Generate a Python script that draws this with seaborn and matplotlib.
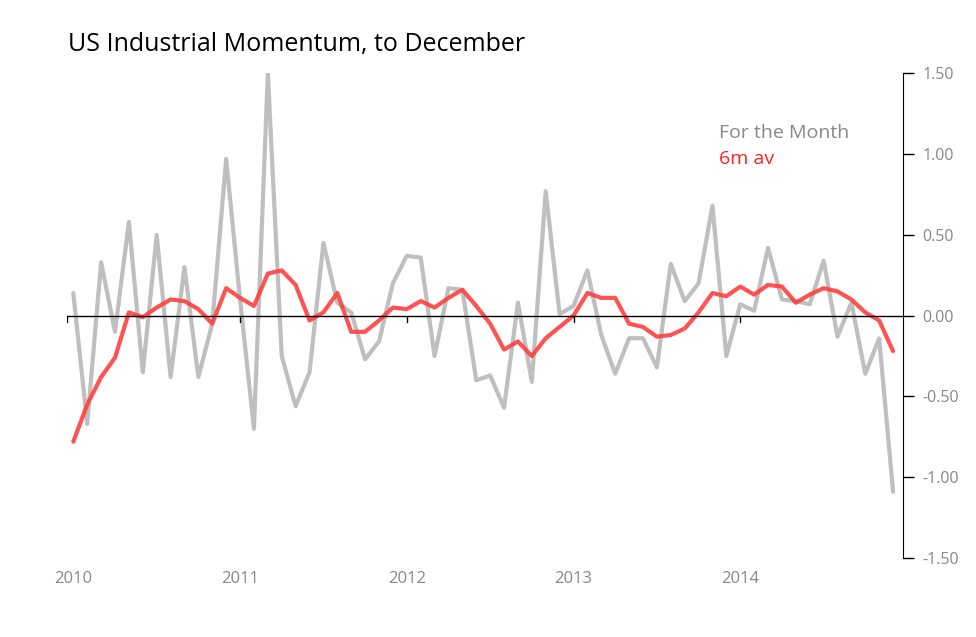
import numpy as np
import pandas as pd
import matplotlib
matplotlib.use("Agg")
import matplotlib.pyplot as plt
import seaborn as sns

# =========================
# data (monthly, Jan 2010 - Dec 2014)
# =========================
monthly = [0.14, -0.67, 0.33, -0.10, 0.58, -0.35, 0.50, -0.38, 0.30, -0.38, -0.05, 0.97,
           0.10, -0.70, 1.50, -0.25, -0.56, -0.35, 0.45, 0.08, 0.02, -0.27, -0.16, 0.20,
           0.37, 0.36, -0.25, 0.17, 0.16, -0.40, -0.37, -0.57, 0.08, -0.41, 0.77, 0.01,
           0.06, 0.28, -0.12, -0.36, -0.14, -0.14, -0.32, 0.32, 0.09, 0.20, 0.68, -0.25,
           0.07, 0.03, 0.42, 0.10, 0.09, 0.07, 0.34, -0.13, 0.08, -0.36, -0.14, -1.09]
avg6 = [-0.78, -0.55, -0.38, -0.26, 0.02, -0.01, 0.05, 0.10, 0.09, 0.04, -0.05, 0.17,
        0.11, 0.06, 0.26, 0.28, 0.19, -0.03, 0.02, 0.14, -0.10, -0.10, -0.03, 0.05,
        0.04, 0.09, 0.05, 0.11, 0.16, 0.06, -0.05, -0.21, -0.16, -0.25, -0.14, -0.07,
        0.00, 0.14, 0.11, 0.11, -0.05, -0.07, -0.13, -0.12, -0.08, 0.02, 0.14, 0.12,
        0.18, 0.13, 0.19, 0.18, 0.08, 0.13, 0.17, 0.15, 0.10, 0.02, -0.03, -0.22]
years = ["2010", "2011", "2012", "2013", "2014"]
yticks = [1.5, 1.0, 0.5, 0.0, -0.5, -1.0, -1.5]

df = pd.DataFrame({"t": np.arange(len(monthly)), "month": monthly, "avg": avg6})

sns.set_style("white")
plt.rcParams["font.family"] = ["Open Sans", "DejaVu Sans"]

fig = plt.figure(figsize=(9.76, 6.37), dpi=100)
ax = fig.add_axes([0.069, 0.124, 0.856, 0.761])

sns.lineplot(data=df, x="t", y="month", color="#bfbfbf", linewidth=3, ax=ax)
sns.lineplot(data=df, x="t", y="avg", color="#ff4040", alpha=0.9, linewidth=3, ax=ax)

ax.set_xlim(-0.43, 59.7)
ax.set_ylim(-1.5, 1.5)
ax.axhline(0, color="black", linewidth=1)

# year ticks sitting on the zero line
year_pos = np.arange(len(years)) * 12.0
year_pos[0] = -0.43
for xp in year_pos:
    ax.plot([xp, xp], [0, -0.04], color="black", linewidth=1)

ax.set_xticks(np.arange(len(years)) * 12)
ax.set_xticklabels(years, color="#888888", fontsize=12)
ax.tick_params(axis="x", length=0, pad=9)

ax.yaxis.tick_right()
ax.set_yticks(yticks)
ax.set_yticklabels([f"{v:.2f}" for v in yticks], color="#888888", fontsize=11.5)
ax.tick_params(axis="y", direction="out", length=8, width=1, color="black", pad=6)

for s in ["top", "left", "bottom"]:
    ax.spines[s].set_visible(False)
ax.spines["right"].set_color("black")
ax.set_xlabel("")
ax.set_ylabel("")

ax.text(46.5, 1.1, "For the Month", color="#888888", fontsize=14)
ax.text(46.5, 0.94, "6m av", color="#ff2020", fontsize=14)
fig.text(0.07, 0.92, "US Industrial Momentum, to December", fontsize=18, color="black")

fig.savefig("out.png", dpi=100)
